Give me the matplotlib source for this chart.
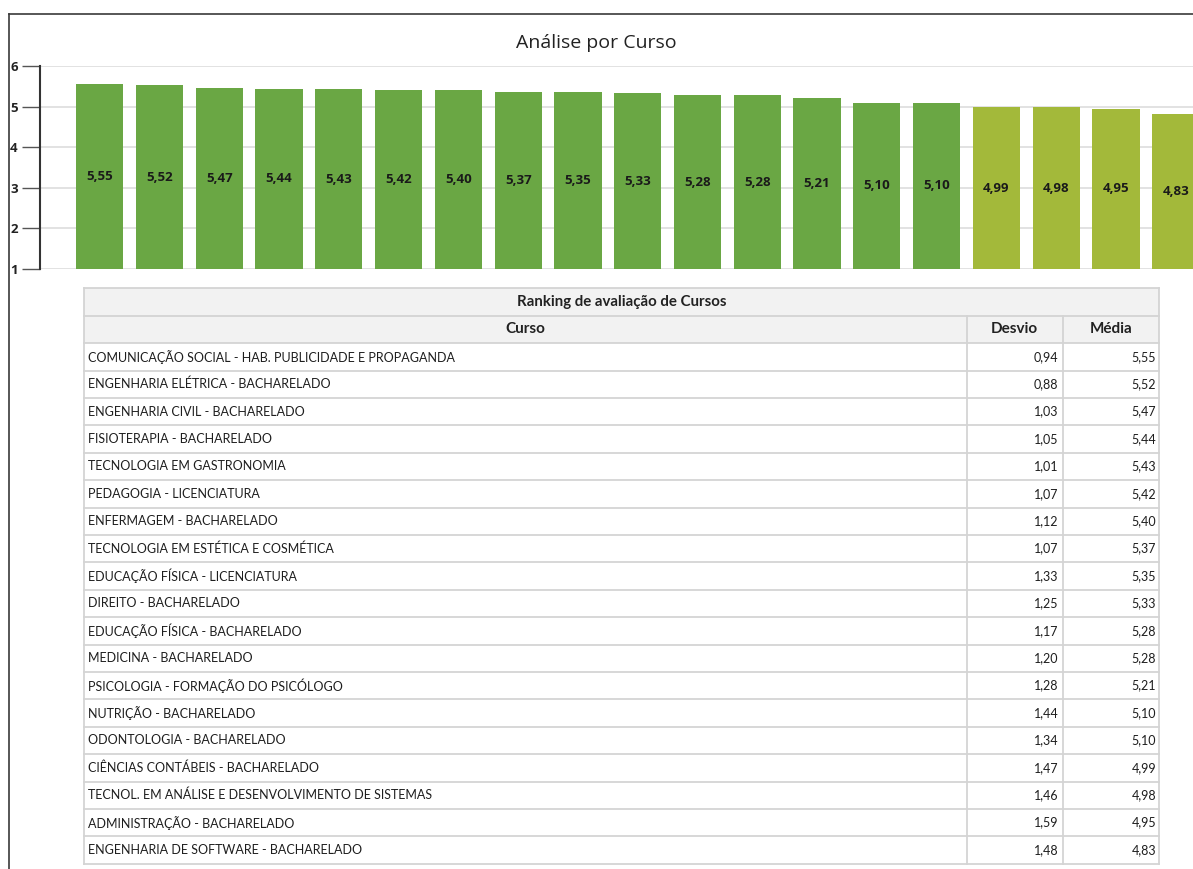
import matplotlib
matplotlib.use("Agg")
import matplotlib.pyplot as plt
from matplotlib.patches import Rectangle
from matplotlib.lines import Line2D

cursos = [
    "COMUNICAÇÃO SOCIAL - HAB. PUBLICIDADE E PROPAGANDA",
    "ENGENHARIA ELÉTRICA - BACHARELADO",
    "ENGENHARIA CIVIL - BACHARELADO",
    "FISIOTERAPIA - BACHARELADO",
    "TECNOLOGIA EM GASTRONOMIA",
    "PEDAGOGIA - LICENCIATURA",
    "ENFERMAGEM - BACHARELADO",
    "TECNOLOGIA EM ESTÉTICA E COSMÉTICA",
    "EDUCAÇÃO FÍSICA - LICENCIATURA",
    "DIREITO - BACHARELADO",
    "EDUCAÇÃO FÍSICA - BACHARELADO",
    "MEDICINA - BACHARELADO",
    "PSICOLOGIA - FORMAÇÃO DO PSICÓLOGO",
    "NUTRIÇÃO - BACHARELADO",
    "ODONTOLOGIA - BACHARELADO",
    "CIÊNCIAS CONTÁBEIS - BACHARELADO",
    "TECNOL. EM ANÁLISE E DESENVOLVIMENTO DE SISTEMAS",
    "ADMINISTRAÇÃO - BACHARELADO",
    "ENGENHARIA DE SOFTWARE - BACHARELADO",
]
desvio = [0.94, 0.88, 1.03, 1.05, 1.01, 1.07, 1.12, 1.07, 1.33, 1.25,
          1.17, 1.20, 1.28, 1.44, 1.34, 1.47, 1.46, 1.59, 1.48]
media = [5.55, 5.52, 5.47, 5.44, 5.43, 5.42, 5.40, 5.37, 5.35, 5.33,
         5.28, 5.28, 5.21, 5.10, 5.10, 4.99, 4.98, 4.95, 4.83]
y_ticks = [1, 2, 3, 4, 5, 6]

def fmt(v):
    return f"{v:.2f}".replace(".", ",")

W, H = 1193, 869
fig = plt.figure(figsize=(W / 100, H / 100), dpi=100)
fig.patch.set_facecolor("white")

FONT = "Open Sans"
TFONT = "Lato"

# frame lines
fig.add_artist(Line2D([9 / W, 9 / W], [0, 1 - 14 / H], color="#3a3a3a", lw=1.2, transform=fig.transFigure))
fig.add_artist(Line2D([9 / W, 1], [1 - 14 / H, 1 - 14 / H], color="#3a3a3a", lw=1.2, transform=fig.transFigure))

fig.text(596 / W, 1 - 43 / H, "Análise por Curso", ha="center", va="center",
         fontsize=14, family=FONT, color="#222222")

# bar chart
ax = fig.add_axes([40 / W, 1 - 269 / H, 1 - 40 / W, (269 - 66) / H])
colors = ["#6aa744" if v >= 5.0 else "#a3b93a" for v in media]
x = list(range(len(media)))
ax.bar(x, [v - 1 for v in media], bottom=1, width=0.79, color=colors, zorder=3)
for xi, v in zip(x, media):
    ax.text(xi, (1 + v) / 2, fmt(v), ha="center", va="center", fontsize=9.5,
            fontweight="bold", family=FONT, color="#1a1a1a", zorder=4)
ax.set_xlim(-1.0, 18.29)
ax.set_ylim(1, 6)
ax.set_yticks(y_ticks)
ax.set_yticklabels([str(t) for t in y_ticks], fontweight="bold", fontsize=9.5, family=FONT, color="#222222")
ax.tick_params(axis="y", length=13, width=1, color="#555555", pad=3)
ax.set_xticks([])
ax.yaxis.grid(True, color="#dddddd", lw=1.2, zorder=0)
for s in ["top", "right", "bottom"]:
    ax.spines[s].set_visible(False)
ax.spines["left"].set_color("#333333")
ax.spines["left"].set_linewidth(1.5)
ax.set_facecolor("none")

# table
tax = fig.add_axes([0, 0, 1, 1])
tax.set_xlim(0, W)
tax.set_ylim(H, 0)
tax.axis("off")

L, R = 84, 1159
c1, c2 = 966.5, 1062.5
top = 288.3
hrow = 27.4
border = "#d4d4d4"

tax.add_patch(Rectangle((L, top), R - L, 2 * hrow, facecolor="#f2f2f2", edgecolor="none"))
n = len(cursos)
bottom = top + (n + 2) * hrow
for i in range(n + 3):
    yy = top + i * hrow
    tax.add_line(Line2D([L, R], [yy, yy], color=border, lw=1.3))
tax.add_line(Line2D([L, L], [top, bottom], color=border, lw=1.3))
tax.add_line(Line2D([R, R], [top, bottom], color=border, lw=1.3))
for cx in (c1, c2):
    tax.add_line(Line2D([cx, cx], [top + hrow, bottom], color=border, lw=1.3))

tax.text((L + R) / 2, top + hrow / 2, "Ranking de avaliação de Cursos", ha="center", va="center",
         fontsize=10.8, fontweight="bold", family=TFONT, color="#222222")
tax.text((L + c1) / 2, top + 1.5 * hrow, "Curso", ha="center", va="center",
         fontsize=11, fontweight="bold", family=TFONT, color="#222222")
tax.text((c1 + c2) / 2, top + 1.5 * hrow, "Desvio", ha="center", va="center",
         fontsize=11, fontweight="bold", family=TFONT, color="#222222")
tax.text((c2 + R) / 2, top + 1.5 * hrow, "Média", ha="center", va="center",
         fontsize=11, fontweight="bold", family=TFONT, color="#222222")

for i, (c, d, m) in enumerate(zip(cursos, desvio, media)):
    yc = top + (i + 2.5) * hrow
    tax.text(L + 4, yc, c, ha="left", va="center", fontsize=9, family=TFONT, color="#1e1e1e")
    tax.text(c2 - 4, yc, fmt(d), ha="right", va="center", fontsize=9, family=TFONT, color="#1e1e1e")
    tax.text(R - 3, yc, fmt(m), ha="right", va="center", fontsize=9, family=TFONT, color="#1e1e1e")

fig.savefig("out.png", dpi=100)
